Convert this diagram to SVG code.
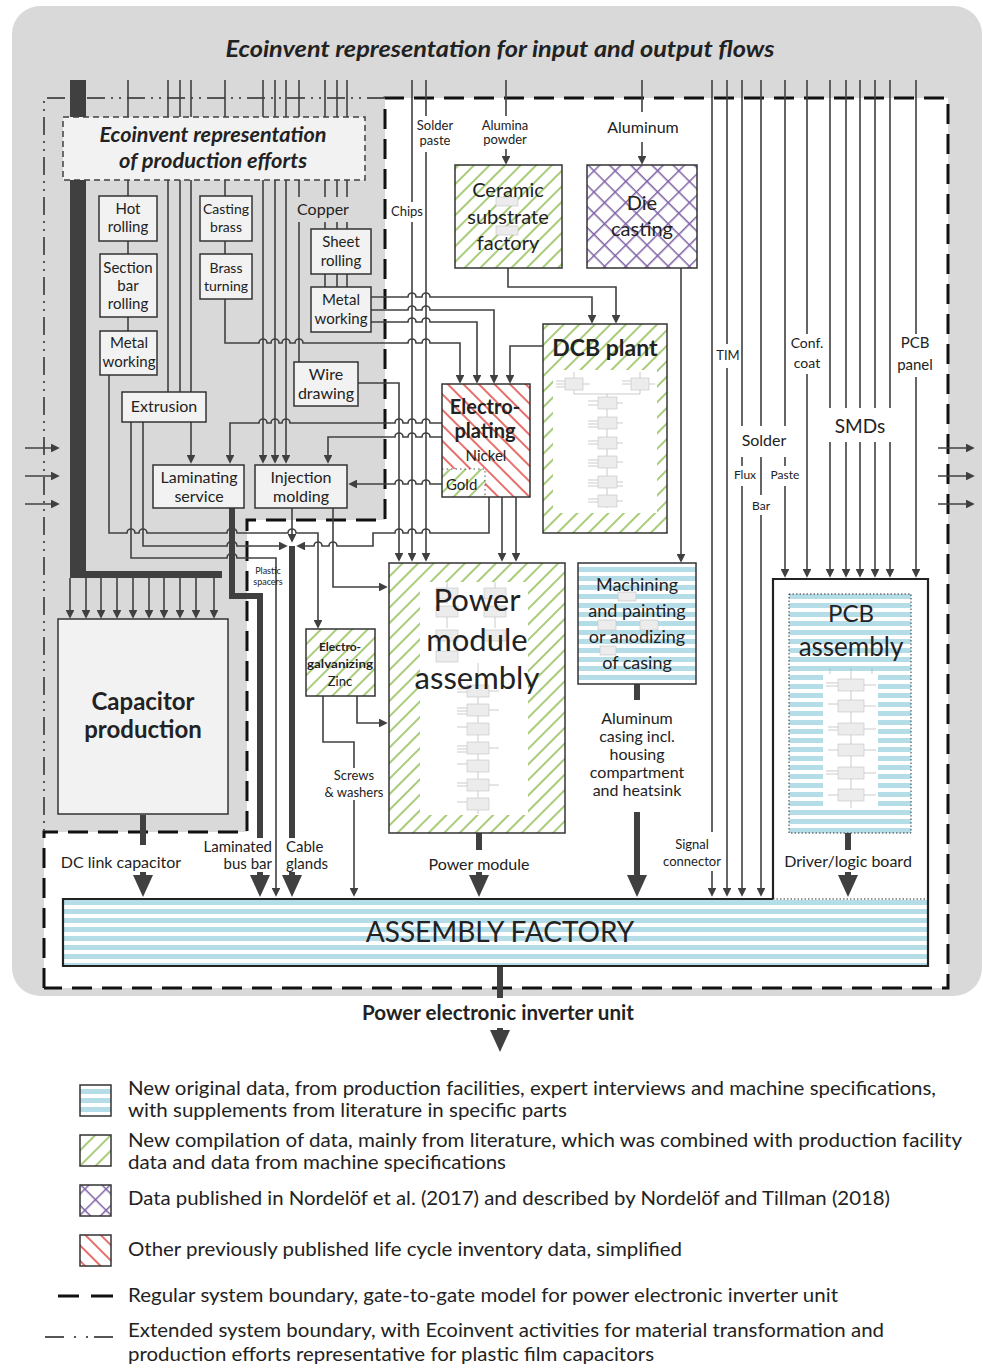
<svg xmlns="http://www.w3.org/2000/svg" width="983" height="1368" viewBox="0 0 983 1368">
<defs>
<style>
.ln{fill:none;stroke:#404040;stroke-width:1.6}
.tk{fill:none;stroke:#404040;stroke-width:6}
.bx{fill:#f2f2f2;stroke:#333;stroke-width:1.5}
.t{font-family:Lato,"Liberation Sans",sans-serif;fill:#222;text-anchor:middle}
.lg{font-family:Lato,"Liberation Sans",sans-serif;fill:#222;font-size:20px}
.pc{fill:#ececec;stroke:#c2c2c2;stroke-width:0.6}
.pl{fill:none;stroke:#a8a8a8;stroke-width:0.6}
</style>
<marker id="ah" viewBox="0 0 10 10" refX="8" refY="5" markerWidth="5.5" markerHeight="5.5" orient="auto"><path d="M0,0L10,5L0,10z" fill="#404040"/></marker>
<marker id="AH" viewBox="0 0 22 20" refX="5" refY="10" markerWidth="22" markerHeight="20" markerUnits="userSpaceOnUse" orient="auto"><path d="M0,0L22,10L0,20z" fill="#404040"/></marker>
<pattern id="bs" width="10" height="9" patternUnits="userSpaceOnUse"><rect width="10" height="9" fill="#fff"/><rect width="10" height="5" fill="#b5dde8"/></pattern>
<pattern id="gh" width="11" height="11" patternUnits="userSpaceOnUse" patternTransform="rotate(45)"><rect width="11" height="11" fill="#fff"/><line x1="1" y1="0" x2="1" y2="11" stroke="#8dbb4f" stroke-width="1.5"/></pattern>
<pattern id="rh" width="11" height="11" patternUnits="userSpaceOnUse" patternTransform="rotate(-45)"><rect width="11" height="11" fill="#fff"/><line x1="1" y1="0" x2="1" y2="11" stroke="#e0403a" stroke-width="1.5"/></pattern>
<pattern id="ph" width="15" height="15" patternUnits="userSpaceOnUse" patternTransform="rotate(45)"><rect width="15" height="15" fill="#fff"/><path d="M0.75,0V15M0,0.75H15" stroke="#7f63a8" stroke-width="1.5"/></pattern>
</defs>

<!-- background -->
<rect x="12" y="6" width="970" height="990" rx="28" fill="#d9d9d9"/>
<text class="t" x="500" y="57" font-size="23" font-weight="bold" font-style="italic" textLength="549" lengthAdjust="spacingAndGlyphs">Ecoinvent representation for input and output flows</text>
<path d="M385,98H948V988H44V832H247V520H385Z" fill="#fff"/>

<!-- boundaries -->
<g id="boundaries">
<path d="M44,988V832H247V520H385V98H948V988H44" fill="none" stroke="#111" stroke-width="3" stroke-dasharray="20 10"/>
<path d="M385,98H44V832" fill="none" stroke="#555" stroke-width="2" stroke-dasharray="18 6 2 6 2 6"/>
</g>

<!-- thick ecoinvent bar to capacitor -->
<g id="ecoinvent-bar">
<rect x="70" y="80" width="16" height="498" fill="#404040"/>
<rect x="70" y="571" width="152" height="7" fill="#404040"/>
</g>

<!-- connectors -->
<g id="connectors">
<path class="ln" d="M128,80V117M168,80V117M180,80V117M191,80V117M225,80V117M263,80V117M275,80V117M286,80V117M299,80V117M325,80V117M337,80V117M347,80V117"/>
<path class="ln" d="M128,180V196M168,180V392M180,180V392M191,180V392M225,180V196M299,180V197M325,180V197M337,180V197M347,180V197M299,222V362M325,222V229M337,222V229M347,222V229"/>
<path class="ln" d="M128,241V254M128,317V331M225,241V254M325,274V287M337,274V287M347,274V287"/>
<g marker-end="url(#ah)" class="ln">
<path d="M263,180V462"/><path d="M275,180V462"/><path d="M286,180V462"/>
<path d="M70,578V617"/><path d="M86,578V617"/><path d="M101,578V617"/><path d="M117,578V617"/><path d="M133,578V617"/><path d="M149,578V617"/><path d="M164,578V617"/><path d="M180,578V617"/><path d="M196,578V617"/><path d="M214,578V617"/>
<path d="M25,448H58"/><path d="M25,476H58"/><path d="M25,504H58"/>
<path d="M938,448H973"/><path d="M938,476H973"/><path d="M938,504H973"/>
<path d="M371,297H408A4,4 0 0 1 416,297H422A4,4 0 0 1 430,297H592V322"/>
<path d="M371,310H408A4,4 0 0 1 416,310H422A4,4 0 0 1 430,310H494V382"/>
<path d="M371,322H408A4,4 0 0 1 416,322H422A4,4 0 0 1 430,322H477V382"/>
<path d="M225,299V343H259A4,4 0 0 1 267,343H271A4,4 0 0 1 279,343H282A4,4 0 0 1 290,343H295A4,4 0 0 1 303,343H408A4,4 0 0 1 416,343H422A4,4 0 0 1 430,343H460V382"/>
<path d="M358,383H399V560"/>
<path d="M412,222V560"/>
<path d="M426,152V560"/>
<path d="M442,423H430A4,4 0 0 0 422,423H416A4,4 0 0 0 408,423H403A4,4 0 0 0 395,423H290A4,4 0 0 0 282,423H279A4,4 0 0 0 271,423H267A4,4 0 0 0 259,423H230V462"/>
<path d="M442,437H430A4,4 0 0 0 422,437H416A4,4 0 0 0 408,437H403A4,4 0 0 0 395,437H328V462"/>
<path d="M442,484H430A4,4 0 0 0 422,484H416A4,4 0 0 0 408,484H403A4,4 0 0 0 395,484H350"/>
<path d="M502,497V560"/><path d="M516,497V560"/>
<path d="M489,497V533H430A4,4 0 0 0 422,533H416A4,4 0 0 0 408,533H403A4,4 0 0 0 395,533H373V546H337A4,4 0 0 0 329,546H322A4,4 0 0 0 314,546H298"/>
<path d="M543,346H510V382"/>
<path d="M508,268V287H616V322"/>
<path d="M681,268V561"/>
<path d="M506,149V163"/>
<path d="M642,142V163"/>
<path d="M191,422V462"/>
<path d="M143,422V546H227A5,5 0 0 1 237,546H286"/>
<path d="M131,422V558H227A5,5 0 0 1 237,558H276V895"/>
<path d="M109,375V533H127A4,4 0 0 1 135,533H139A4,4 0 0 1 147,533H227A5,5 0 0 1 237,533H288A4,4 0 0 1 296,533H318V627"/>
<path d="M292,508V541"/>
<path d="M333,508V587H386"/>
<path d="M357,696V723H386"/>
<path d="M354,800V895"/>
<path d="M712,871V895"/><path d="M727,368V895"/><path d="M742,486V895"/><path d="M761,515V895"/>
<path d="M785,486V576"/><path d="M807,374V576"/><path d="M830,442V576"/><path d="M846,442V576"/><path d="M860,442V576"/><path d="M875,442V576"/><path d="M890,442V576"/><path d="M916,377V576"/>
</g>
<path class="ln" d="M323,696V742H354V768"/>
<path class="ln" d="M412,80V202M426,80V116M506,80V116M642,80V112"/>
<path class="ln" d="M712,80V832M727,80V344M742,80V426M742,457V466M761,80V426M761,457V495M785,80V426M785,457V466M807,80V334M830,80V408M846,80V408M860,80V408M875,80V408M890,80V408M916,80V334"/>
<path class="tk" d="M232,508V596H260V838"/>
<path class="tk" d="M292,546V838"/>
<path class="tk" d="M143,815V845"/>
<path class="tk" d="M479,833V850"/>
<path class="tk" d="M637,684V700M637,812V872"/>
<path class="tk" d="M848,833V850"/>
<path class="tk" d="M500,966V998"/>
<g class="tk" marker-end="url(#AH)">
<path d="M143,872V880"/><path d="M260,872V880"/><path d="M292,872V880"/><path d="M479,872V880"/><path d="M637,870V880"/><path d="M848,872V880"/><path d="M500,1028V1035"/>
</g>
</g>

<!-- gray-region nodes -->
<g id="ecoinvent-box">
<rect x="63" y="117" width="302" height="63" fill="#f2f2f2" stroke="#404040" stroke-width="1.5" stroke-dasharray="6 4"/>
<text class="t" x="213" y="142" font-size="21" font-weight="bold" font-style="italic" fill="#404040" textLength="227" lengthAdjust="spacingAndGlyphs">Ecoinvent representation</text>
<text class="t" x="213" y="168" font-size="21" font-weight="bold" font-style="italic" fill="#404040" textLength="188" lengthAdjust="spacingAndGlyphs">of production efforts</text>
</g>
<g id="hot-rolling"><rect class="bx" x="99" y="196" width="58" height="45"/><text class="t" x="128" y="214" font-size="15">Hot</text><text class="t" x="128" y="232" font-size="15">rolling</text></g>
<g id="section-bar-rolling"><rect class="bx" x="100" y="254" width="57" height="63"/><text class="t" x="128" y="273" font-size="15">Section</text><text class="t" x="128" y="291" font-size="15">bar</text><text class="t" x="128" y="309" font-size="15">rolling</text></g>
<g id="metal-working-left"><rect class="bx" x="100" y="331" width="57" height="44"/><text class="t" x="129" y="348" font-size="15">Metal</text><text class="t" x="129" y="367" font-size="15">working</text></g>
<g id="casting-brass"><rect class="bx" x="200" y="196" width="52" height="45"/><text class="t" x="226" y="214" font-size="14">Casting</text><text class="t" x="226" y="232" font-size="14">brass</text></g>
<g id="brass-turning"><rect class="bx" x="200" y="254" width="52" height="45"/><text class="t" x="226" y="273" font-size="14">Brass</text><text class="t" x="226" y="291" font-size="14">turning</text></g>
<g id="copper"><text class="t" x="323" y="215" font-size="16">Copper</text></g>
<g id="sheet-rolling"><rect class="bx" x="311" y="229" width="60" height="45"/><text class="t" x="341" y="247" font-size="15">Sheet</text><text class="t" x="341" y="266" font-size="15">rolling</text></g>
<g id="metal-working-right"><rect class="bx" x="311" y="287" width="60" height="45"/><text class="t" x="341" y="305" font-size="15">Metal</text><text class="t" x="341" y="324" font-size="15">working</text></g>
<g id="wire-drawing"><rect class="bx" x="294" y="362" width="64" height="44"/><text class="t" x="326" y="380" font-size="16">Wire</text><text class="t" x="326" y="399" font-size="16">drawing</text></g>
<g id="extrusion"><rect class="bx" x="122" y="392" width="84" height="30"/><text class="t" x="164" y="412" font-size="16">Extrusion</text></g>
<g id="laminating-service"><rect class="bx" x="153" y="465" width="91" height="43"/><text class="t" x="199" y="483" font-size="16">Laminating</text><text class="t" x="199" y="502" font-size="16">service</text></g>
<g id="injection-molding"><rect class="bx" x="255" y="465" width="92" height="43"/><text class="t" x="301" y="483" font-size="16">Injection</text><text class="t" x="301" y="502" font-size="16">molding</text></g>
<g id="capacitor-production"><rect class="bx" x="58" y="619" width="170" height="195"/><text class="t" x="143" y="710" font-size="24" font-weight="bold">Capacitor</text><text class="t" x="143" y="738" font-size="24" font-weight="bold">production</text></g>

<!-- white-region nodes -->
<g id="ceramic-substrate-factory">
<rect x="455" y="165" width="107" height="103" fill="url(#gh)" stroke="#333" stroke-width="1.5"/>
<rect class="pc" x="496" y="197" width="22" height="9"/><rect class="pc" x="496" y="226" width="22" height="9"/>
<text class="t" x="508" y="197" font-size="20">Ceramic</text><text class="t" x="508" y="224" font-size="20">substrate</text><text class="t" x="508" y="250" font-size="20">factory</text>
</g>
<g id="die-casting">
<rect x="587" y="165" width="110" height="103" fill="url(#ph)" stroke="#333" stroke-width="1.5"/>
<text class="t" x="642" y="210" font-size="20">Die</text><text class="t" x="642" y="236" font-size="20">casting</text>
</g>
<g id="dcb-plant">
<rect x="543" y="324" width="124" height="209" fill="url(#gh)" stroke="#333" stroke-width="1.5"/>
<rect x="553" y="370" width="104" height="143" fill="#fff"/>
<path class="pl" d="M574,372V378M640,372V378M574,390V394H640V390M607,394V508M556,381H565M556,384H565M556,387H565M583,384H590M622,381H631M622,384H631M649,384H655M588,401H598M588,405H598M588,421H598M588,424H598M588,427H598M588,441H598M588,444H598M588,460H598M588,463H598M588,466H598M588,480H598M588,483H598M588,486H598M588,499H598M588,502H598M617,403H623M617,423H623M617,443H623M617,462H623M617,482H623M617,486H623M617,501H623"/>
<rect class="pc" x="565" y="378" width="18" height="12"/><rect class="pc" x="631" y="378" width="18" height="12"/>
<rect class="pc" x="598" y="397" width="19" height="12"/><rect class="pc" x="598" y="417" width="19" height="12"/><rect class="pc" x="598" y="437" width="19" height="12"/><rect class="pc" x="598" y="456" width="19" height="12"/><rect class="pc" x="598" y="476" width="19" height="12"/><rect class="pc" x="598" y="495" width="19" height="12"/>
<text class="t" x="605" y="356" font-size="23" font-weight="bold" fill="#111">DCB plant</text>
</g>
<g id="electroplating">
<rect x="442" y="384" width="88" height="113" fill="url(#rh)"/>
<rect x="442" y="469" width="43" height="28" fill="url(#gh)"/>
<path d="M442,469H485V497" fill="none" stroke="#555" stroke-width="1" stroke-dasharray="1.5 3"/>
<rect x="442" y="384" width="88" height="113" fill="none" stroke="#333" stroke-width="1.5"/>
<text class="t" x="485" y="414" font-size="20" font-weight="bold" fill="#111">Electro-</text>
<text class="t" x="485" y="438" font-size="20" font-weight="bold" fill="#111">plating</text>
<text class="t" x="486" y="461" font-size="15">Nickel</text>
<text x="446" y="490" font-size="15" font-family="Lato,'Liberation Sans',sans-serif" fill="#222">Gold</text>
</g>
<g id="power-module-assembly">
<rect x="389" y="563" width="176" height="270" fill="url(#gh)" stroke="#333" stroke-width="1.5"/>
<rect x="420" y="582" width="108" height="233" fill="#fff"/>
<path class="pl" d="M447,582V588M495,582V588M447,599V604M447,617V628M447,641V650M495,599V604M495,617V628M478,663V814M457,689H467M457,692H467M457,708H467M457,711H467M457,714H467M457,727H467M457,746H467M457,749H467M457,752H467M457,764H467M457,783H467M457,786H467M457,802H467M489,691H499M489,710H499M489,748H499M489,785H499"/>
<rect class="pc" x="436" y="588" width="22" height="11"/><rect class="pc" x="436" y="606" width="22" height="11"/><rect class="pc" x="436" y="630" width="22" height="11"/><rect class="pc" x="436" y="651" width="22" height="11"/>
<rect class="pc" x="484" y="588" width="22" height="11"/><rect class="pc" x="484" y="606" width="22" height="11"/><rect class="pc" x="484" y="630" width="22" height="11"/>
<rect class="pc" x="467" y="685" width="22" height="12"/><rect class="pc" x="467" y="704" width="22" height="12"/><rect class="pc" x="467" y="723" width="22" height="12"/><rect class="pc" x="467" y="742" width="22" height="12"/><rect class="pc" x="467" y="760" width="22" height="12"/><rect class="pc" x="467" y="779" width="22" height="12"/><rect class="pc" x="467" y="798" width="22" height="12"/>
<text class="t" x="477" y="611" font-size="31" fill="#111">Power</text>
<text class="t" x="477" y="651" font-size="31" fill="#111">module</text>
<text class="t" x="477" y="689" font-size="31" fill="#111">assembly</text>
</g>
<g id="electro-galvanizing">
<rect x="306" y="629" width="69" height="67" fill="url(#gh)" stroke="#333" stroke-width="1.5"/>
<text class="t" x="340" y="651" font-size="12" font-weight="bold" fill="#111">Electro-</text>
<text class="t" x="340" y="668" font-size="12" font-weight="bold" fill="#111" textLength="66" lengthAdjust="spacingAndGlyphs">galvanizing</text>
<text class="t" x="340" y="686" font-size="13">Zinc</text>
</g>
<g id="machining">
<rect x="578" y="563" width="118" height="121" fill="url(#bs)" stroke="#333" stroke-width="1.5"/>
<rect class="pc" x="618" y="592" width="18" height="9"/><rect class="pc" x="598" y="620" width="18" height="10"/><rect class="pc" x="640" y="620" width="18" height="10"/><rect class="pc" x="600" y="646" width="16" height="9"/>
<text class="t" x="637" y="591" font-size="18">Machining</text>
<text class="t" x="637" y="617" font-size="18">and painting</text>
<text class="t" x="637" y="643" font-size="18">or anodizing</text>
<text class="t" x="637" y="669" font-size="18">of casing</text>
</g>
<g id="pcb-assembly">
<rect x="789" y="594" width="122" height="239" fill="url(#bs)" stroke="#333" stroke-width="1" stroke-dasharray="1.5 2"/>
<rect x="823" y="672" width="55" height="138" fill="#fff"/>
<path class="pl" d="M851,668V808M826,683H838M826,686H838M864,685H876M828,704H838M864,706H876M828,727H838M828,730H838M864,729H876M828,750H838M864,750H876M826,771H838M826,774H838M864,773H876M828,795H838M864,795H876M830,668V674M872,668V674"/>
<rect class="pc" x="838" y="679" width="26" height="12"/><rect class="pc" x="838" y="700" width="26" height="12"/><rect class="pc" x="838" y="723" width="26" height="12"/><rect class="pc" x="838" y="744" width="26" height="12"/><rect class="pc" x="838" y="767" width="26" height="12"/><rect class="pc" x="838" y="789" width="26" height="12"/>
<text class="t" x="851" y="622" font-size="24" fill="#111">PCB</text>
<text class="t" x="851" y="656" font-size="26" fill="#111">assembly</text>
</g>
<g id="assembly-factory">
<rect x="63" y="899" width="865" height="67" fill="url(#bs)"/>
<path d="M773,899H63V966H928V579H773V899" fill="none" stroke="#222" stroke-width="2.2"/>
<path d="M773,899H928" fill="none" stroke="#333" stroke-width="1" stroke-dasharray="1.5 2"/>
<text class="t" x="500" y="942" font-size="28" fill="#111">ASSEMBLY FACTORY</text>
</g>

<!-- flow labels -->
<g id="labels">
<text class="t" x="435" y="130" font-size="13">Solder</text><text class="t" x="435" y="145" font-size="13">paste</text>
<text class="t" x="505" y="130" font-size="13">Alumina</text><text class="t" x="505" y="144" font-size="13">powder</text>
<text class="t" x="643" y="133" font-size="16">Aluminum</text>
<text class="t" x="407" y="216" font-size="13">Chips</text>
<text class="t" x="728" y="360" font-size="13">TIM</text>
<text class="t" x="807" y="348" font-size="14">Conf.</text><text class="t" x="807" y="368" font-size="14">coat</text>
<text class="t" x="915" y="348" font-size="15">PCB</text><text class="t" x="915" y="370" font-size="15">panel</text>
<text class="t" x="764" y="446" font-size="16">Solder</text>
<text class="t" x="860" y="433" font-size="19">SMDs</text>
<text class="t" x="745" y="479" font-size="12">Flux</text>
<text class="t" x="785" y="479" font-size="12">Paste</text>
<text class="t" x="761" y="510" font-size="12">Bar</text>
<text class="t" x="268" y="574" font-size="9">Plastic</text><text class="t" x="268" y="585" font-size="9">spacers</text>
<text class="t" x="354" y="780" font-size="13">Screws</text><text class="t" x="354" y="797" font-size="13">&amp; washers</text>
<text class="t" x="637" y="724" font-size="16">Aluminum</text>
<text class="t" x="637" y="742" font-size="16">casing incl.</text>
<text class="t" x="637" y="760" font-size="16">housing</text>
<text class="t" x="637" y="778" font-size="16">compartment</text>
<text class="t" x="637" y="796" font-size="16">and heatsink</text>
<text class="t" x="692" y="849" font-size="13">Signal</text><text class="t" x="692" y="866" font-size="13">connector</text>
<text class="t" x="121" y="868" font-size="16">DC link capacitor</text>
<text class="t" x="272" y="852" font-size="15" style="text-anchor:end">Laminated</text>
<text class="t" x="272" y="869" font-size="15" style="text-anchor:end">bus bar</text>
<text class="t" x="286" y="852" font-size="15" style="text-anchor:start">Cable</text>
<text class="t" x="286" y="869" font-size="15" style="text-anchor:start">glands</text>
<text class="t" x="479" y="870" font-size="16">Power module</text>
<text class="t" x="848" y="867" font-size="16">Driver/logic board</text>
<text class="t" x="498" y="1020" font-size="20" font-weight="bold" fill="#111" textLength="272" lengthAdjust="spacingAndGlyphs">Power electronic inverter unit</text>
</g>

<!-- legend -->
<g id="legend">
<rect x="80" y="1085" width="31" height="31" fill="url(#bs)" stroke="#333" stroke-width="1.5"/>
<rect x="80" y="1135" width="31" height="31" fill="url(#gh)" stroke="#333" stroke-width="1.5"/>
<rect x="80" y="1185" width="31" height="31" fill="url(#ph)" stroke="#333" stroke-width="1.5"/>
<rect x="80" y="1235" width="31" height="31" fill="url(#rh)" stroke="#333" stroke-width="1.5"/>
<path d="M58,1296H79M91,1296H113" stroke="#111" stroke-width="3"/>
<path d="M45,1337H64M94,1337H113" stroke="#555" stroke-width="2"/>
<path d="M74,1337H76M86,1337H88" stroke="#555" stroke-width="2"/>
<text class="lg" x="128" y="1095" textLength="808" lengthAdjust="spacingAndGlyphs">New original data, from production facilities, expert interviews and machine specifications,</text>
<text class="lg" x="128" y="1117" textLength="439" lengthAdjust="spacingAndGlyphs">with supplements from literature in specific parts</text>
<text class="lg" x="128" y="1147" textLength="834" lengthAdjust="spacingAndGlyphs">New compilation of data, mainly from literature, which was combined with production facility</text>
<text class="lg" x="128" y="1169" textLength="378" lengthAdjust="spacingAndGlyphs">data and data from machine specifications</text>
<text class="lg" x="128" y="1205" textLength="762" lengthAdjust="spacingAndGlyphs">Data published in Nordelöf et al. (2017) and described by Nordelöf and Tillman (2018)</text>
<text class="lg" x="128" y="1256" textLength="554" lengthAdjust="spacingAndGlyphs">Other previously published life cycle inventory data, simplified</text>
<text class="lg" x="128" y="1302" textLength="710" lengthAdjust="spacingAndGlyphs">Regular system boundary, gate-to-gate model for power electronic inverter unit</text>
<text class="lg" x="128" y="1337" textLength="756" lengthAdjust="spacingAndGlyphs">Extended system boundary, with Ecoinvent activities for material transformation and</text>
<text class="lg" x="128" y="1361" textLength="526" lengthAdjust="spacingAndGlyphs">production efforts representative for plastic film capacitors</text>
</g>
</svg>
